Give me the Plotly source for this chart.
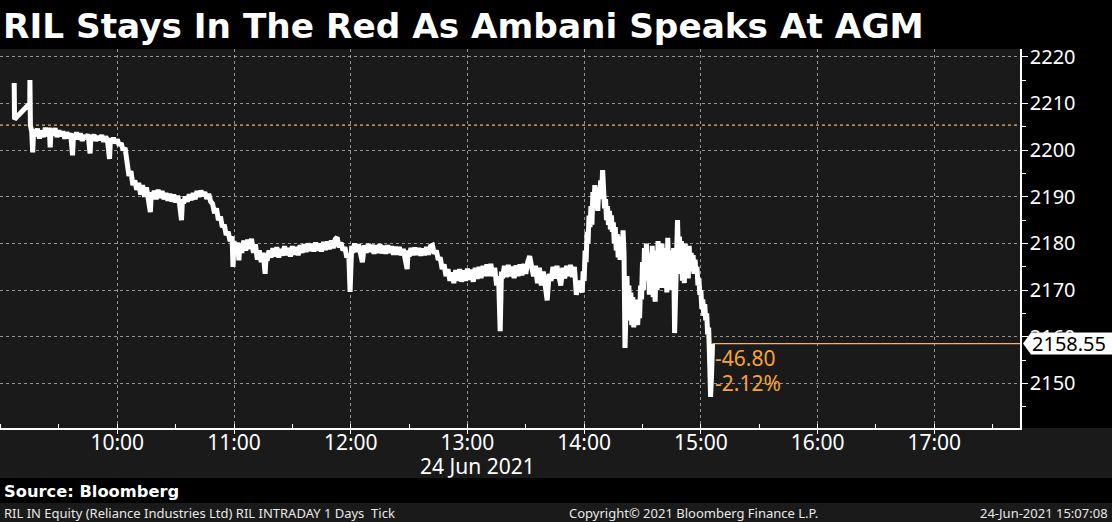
import plotly.graph_objects as go

DATE = "2021-06-24"
TITLE = "RIL Stays In The Red As Ambani Speaks At AGM"

# ---- data ----
preopen = [("09:07:00", 2214.4), ("09:07:10", 2206.6), ("09:15:00", 2210.0),
           ("09:15:05", 2215.0), ("09:15:20", 2205.3)]

morning = [
    ("09:16:00", 2204.0), ("09:16:30", 2199.5), ("09:17:00", 2204.5), ("09:18:00", 2203.0),
    ("09:19:00", 2204.6), ("09:20:00", 2202.5), ("09:21:00", 2204.2), ("09:22:00", 2202.8),
    ("09:23:00", 2204.8), ("09:24:00", 2203.0), ("09:25:00", 2204.8), ("09:25:30", 2200.6),
    ("09:26:00", 2204.5), ("09:27:00", 2203.2), ("09:28:00", 2204.7), ("09:29:00", 2202.8),
    ("09:30:00", 2204.2), ("09:31:00", 2203.0), ("09:32:00", 2204.0), ("09:33:00", 2202.5),
    ("09:34:00", 2203.8), ("09:35:00", 2202.6), ("09:36:00", 2203.6), ("09:37:00", 2198.9),
    ("09:37:30", 2203.5), ("09:38:00", 2202.5), ("09:39:00", 2203.8), ("09:40:00", 2202.3),
    ("09:41:00", 2203.6), ("09:42:00", 2202.0), ("09:43:00", 2203.2), ("09:44:00", 2202.4),
    ("09:45:00", 2203.4), ("09:46:00", 2199.3), ("09:46:30", 2203.2), ("09:47:00", 2202.2),
    ("09:48:00", 2203.3), ("09:49:00", 2202.0), ("09:50:00", 2203.0), ("09:51:00", 2202.2),
    ("09:52:00", 2203.2), ("09:53:00", 2201.8), ("09:54:00", 2202.9), ("09:55:00", 2202.0),
    ("09:56:00", 2198.1), ("09:56:30", 2202.6), ("09:57:00", 2201.7), ("09:58:00", 2202.6),
    ("09:59:00", 2201.5), ("10:00:00", 2202.3), ("10:01:00", 2201.0), ("10:02:00", 2201.5),
    ("10:03:00", 2200.0), ("10:04:00", 2200.5), ("10:05:00", 2197.0), ("10:06:00", 2194.5),
    ("10:07:00", 2195.5), ("10:08:00", 2192.5), ("10:09:00", 2193.5), ("10:10:00", 2191.5),
    ("10:11:00", 2193.0), ("10:12:00", 2190.5), ("10:13:00", 2192.5), ("10:14:00", 2190.0),
    ("10:15:00", 2192.0), ("10:16:00", 2189.8), ("10:17:00", 2186.7), ("10:17:30", 2191.0),
    ("10:18:00", 2189.5), ("10:19:00", 2191.3), ("10:20:00", 2189.5), ("10:21:00", 2191.5),
    ("10:22:00", 2189.8), ("10:23:00", 2191.2), ("10:24:00", 2189.5), ("10:25:00", 2190.8),
    ("10:26:00", 2189.2), ("10:27:00", 2190.6), ("10:28:00", 2189.0), ("10:29:00", 2190.5),
    ("10:30:00", 2188.8), ("10:31:00", 2190.2), ("10:32:00", 2188.5), ("10:33:00", 2185.0),
    ("10:33:30", 2189.5), ("10:34:00", 2188.6), ("10:35:00", 2190.0), ("10:36:00", 2189.0),
    ("10:37:00", 2190.5), ("10:38:00", 2189.3), ("10:39:00", 2190.8), ("10:40:00", 2189.5),
    ("10:41:00", 2191.2), ("10:42:00", 2190.0), ("10:43:00", 2191.3), ("10:44:00", 2190.2),
    ("10:45:00", 2191.0), ("10:46:00", 2189.6), ("10:47:00", 2190.6), ("10:48:00", 2189.0),
    ("10:49:00", 2188.5), ("10:50:00", 2186.5), ("10:51:00", 2187.5), ("10:52:00", 2185.0),
    ("10:53:00", 2185.8), ("10:54:00", 2183.5), ("10:55:00", 2184.0), ("10:56:00", 2181.8),
    ("10:57:00", 2182.5), ("10:58:00", 2180.5), ("10:59:00", 2181.5), ("10:59:30", 2175.0),
    ("11:00:00", 2180.5), ("11:01:00", 2178.5), ("11:02:00", 2180.2), ("11:02:30", 2176.4),
    ("11:03:00", 2179.8), ("11:04:00", 2178.0), ("11:05:00", 2180.6), ("11:06:00", 2178.5),
    ("11:07:00", 2180.8), ("11:08:00", 2178.8), ("11:09:00", 2181.0), ("11:10:00", 2178.0),
    ("11:11:00", 2179.8), ("11:12:00", 2176.5), ("11:13:00", 2178.5), ("11:14:00", 2176.0),
    ("11:15:00", 2178.0), ("11:16:00", 2173.5), ("11:16:30", 2177.5), ("11:17:00", 2176.3),
    ("11:18:00", 2178.5), ("11:19:00", 2177.0), ("11:20:00", 2179.0), ("11:21:00", 2177.2),
    ("11:22:00", 2179.2), ("11:23:00", 2177.0), ("11:24:00", 2178.8), ("11:25:00", 2177.4),
    ("11:26:00", 2179.4), ("11:27:00", 2177.5), ("11:28:00", 2179.0), ("11:29:00", 2177.2),
    ("11:30:00", 2179.4), ("11:31:00", 2177.6), ("11:32:00", 2179.2), ("11:33:00", 2177.5),
    ("11:34:00", 2179.6), ("11:35:00", 2178.0), ("11:36:00", 2179.8), ("11:37:00", 2178.2),
    ("11:38:00", 2180.0), ("11:39:00", 2178.4), ("11:40:00", 2179.9), ("11:41:00", 2178.3),
    ("11:42:00", 2180.2), ("11:43:00", 2178.5), ("11:44:00", 2180.0), ("11:45:00", 2178.3),
    ("11:46:00", 2180.3), ("11:47:00", 2178.6), ("11:48:00", 2180.4), ("11:49:00", 2178.8),
    ("11:50:00", 2180.6), ("11:51:00", 2179.0), ("11:52:00", 2180.9), ("11:53:00", 2181.3),
    ("11:54:00", 2179.2), ("11:55:00", 2180.2), ("11:56:00", 2178.5), ("11:57:00", 2179.2),
    ("11:58:00", 2177.0), ("11:59:00", 2177.8), ("11:59:40", 2169.6),
]

midday = [
    ("12:00:30", 2179.5), ("12:01:00", 2178.0), ("12:02:00", 2180.0), ("12:03:00", 2178.2),
    ("12:04:00", 2179.8), ("12:05:00", 2177.5), ("12:06:00", 2176.0), ("12:07:00", 2179.6),
    ("12:08:00", 2178.0), ("12:09:00", 2179.9), ("12:10:00", 2178.2), ("12:11:00", 2179.7),
    ("12:12:00", 2177.8), ("12:13:00", 2179.6), ("12:14:00", 2178.0), ("12:15:00", 2179.8),
    ("12:16:00", 2177.9), ("12:17:00", 2179.5), ("12:18:00", 2177.8), ("12:19:00", 2179.6),
    ("12:20:00", 2178.0), ("12:21:00", 2179.4), ("12:22:00", 2177.6), ("12:23:00", 2179.3),
    ("12:24:00", 2177.6), ("12:25:00", 2179.2), ("12:26:00", 2177.5), ("12:27:00", 2178.8),
    ("12:28:00", 2177.0), ("12:29:00", 2174.5), ("12:29:30", 2178.5), ("12:30:00", 2177.2),
    ("12:31:00", 2179.0), ("12:32:00", 2177.5), ("12:33:00", 2179.1), ("12:34:00", 2177.6),
    ("12:35:00", 2179.0), ("12:36:00", 2177.4), ("12:37:00", 2178.9), ("12:38:00", 2177.5),
    ("12:39:00", 2179.2), ("12:40:00", 2177.6), ("12:41:00", 2179.4), ("12:42:00", 2179.6),
    ("12:43:00", 2177.8), ("12:44:00", 2178.5), ("12:45:00", 2176.5), ("12:46:00", 2177.0),
    ("12:47:00", 2174.5), ("12:48:00", 2175.5), ("12:49:00", 2173.0), ("12:50:00", 2174.5),
    ("12:51:00", 2172.0), ("12:52:00", 2173.8), ("12:53:00", 2171.5), ("12:54:00", 2174.3),
    ("12:55:00", 2172.0), ("12:56:00", 2174.5), ("12:57:00", 2171.8), ("12:58:00", 2174.2),
    ("12:59:00", 2172.0), ("13:00:00", 2174.6), ("13:01:00", 2172.2), ("13:02:00", 2174.4),
    ("13:03:00", 2171.8), ("13:04:00", 2174.8), ("13:05:00", 2172.4), ("13:06:00", 2175.0),
    ("13:07:00", 2172.6), ("13:08:00", 2175.2), ("13:09:00", 2173.0), ("13:10:00", 2175.5),
    ("13:11:00", 2173.0), ("13:12:00", 2175.6), ("13:13:00", 2173.0), ("13:14:00", 2174.8),
    ("13:15:00", 2171.0), ("13:16:00", 2173.0), ("13:16:50", 2161.2), ("13:17:30", 2174.0),
    ("13:18:00", 2172.5), ("13:19:00", 2175.2), ("13:20:00", 2172.8), ("13:21:00", 2175.4),
    ("13:22:00", 2173.0), ("13:23:00", 2175.0), ("13:24:00", 2172.6), ("13:25:00", 2175.3),
    ("13:26:00", 2173.0), ("13:27:00", 2175.5), ("13:28:00", 2173.2), ("13:29:00", 2175.6),
    ("13:30:00", 2173.5), ("13:31:00", 2176.0), ("13:32:00", 2177.3), ("13:33:00", 2175.0),
    ("13:34:00", 2173.0), ("13:35:00", 2175.2), ("13:36:00", 2171.5), ("13:37:00", 2174.8),
    ("13:38:00", 2171.0), ("13:39:00", 2174.0), ("13:40:00", 2170.5), ("13:41:00", 2167.8),
    ("13:42:00", 2173.5), ("13:43:00", 2172.0), ("13:44:00", 2175.0), ("13:45:00", 2172.5),
    ("13:46:00", 2175.2), ("13:47:00", 2172.8), ("13:48:00", 2171.0), ("13:49:00", 2174.8),
    ("13:50:00", 2172.5), ("13:51:00", 2175.2), ("13:52:00", 2173.0), ("13:53:00", 2175.4),
    ("13:54:00", 2172.8), ("13:55:00", 2175.0), ("13:56:00", 2169.0), ("13:57:00", 2172.0),
]

afternoon = [
    ("13:58:00", 2171.0), ("13:59:00", 2169.5), ("13:59:30", 2174.0), ("14:00:00", 2172.0),
    ("14:00:30", 2178.5), ("14:01:00", 2176.0), ("14:01:30", 2182.5), ("14:02:00", 2180.0),
    ("14:02:30", 2186.0), ("14:03:00", 2183.5), ("14:03:30", 2188.0), ("14:04:00", 2184.0),
    ("14:04:30", 2191.0), ("14:05:00", 2187.5), ("14:05:30", 2192.5), ("14:06:00", 2188.0),
    ("14:06:30", 2190.5), ("14:07:00", 2187.0), ("14:07:30", 2192.0), ("14:08:00", 2189.5),
    ("14:08:30", 2193.5), ("14:09:00", 2191.0), ("14:09:30", 2195.7), ("14:10:00", 2190.0),
    ("14:10:30", 2187.5), ("14:11:00", 2189.5), ("14:11:30", 2185.0), ("14:12:00", 2188.0),
    ("14:12:30", 2184.0), ("14:13:00", 2187.0), ("14:13:30", 2183.0), ("14:14:00", 2186.0),
    ("14:14:30", 2182.5), ("14:15:00", 2184.5), ("14:15:30", 2180.0), ("14:16:00", 2183.5),
    ("14:16:30", 2178.5), ("14:17:00", 2182.0), ("14:17:30", 2177.0), ("14:18:00", 2181.5),
    ("14:18:30", 2176.5), ("14:19:00", 2181.0), ("14:19:30", 2177.5), ("14:20:00", 2182.8),
    ("14:20:30", 2178.0), ("14:21:00", 2157.6), ("14:21:30", 2170.0), ("14:22:00", 2173.0),
    ("14:22:30", 2165.0), ("14:23:00", 2171.0), ("14:23:30", 2163.5), ("14:24:00", 2169.5),
    ("14:24:30", 2162.5), ("14:25:00", 2168.5), ("14:25:30", 2162.0), ("14:26:00", 2167.5),
    ("14:26:30", 2163.0), ("14:27:00", 2168.0), ("14:27:30", 2162.5), ("14:28:00", 2166.5),
    ("14:28:30", 2164.0), ("14:29:00", 2171.0), ("14:29:30", 2168.0), ("14:30:00", 2176.0),
    ("14:30:30", 2170.0), ("14:31:00", 2179.0), ("14:31:30", 2172.0), ("14:32:00", 2180.0),
    ("14:32:30", 2173.0), ("14:33:00", 2178.0), ("14:33:30", 2169.0), ("14:34:00", 2177.5),
    ("14:34:30", 2170.0), ("14:35:00", 2179.5), ("14:35:30", 2168.5), ("14:36:00", 2176.0),
    ("14:36:30", 2167.5), ("14:37:00", 2178.5), ("14:37:30", 2170.0), ("14:38:00", 2180.5),
    ("14:38:30", 2171.5), ("14:39:00", 2178.0), ("14:39:30", 2170.5), ("14:40:00", 2180.0),
    ("14:40:30", 2172.0), ("14:41:00", 2179.0), ("14:41:30", 2170.5), ("14:42:00", 2176.5),
    ("14:42:30", 2169.5), ("14:43:00", 2181.2), ("14:43:30", 2172.0), ("14:44:00", 2177.5),
    ("14:44:30", 2170.0), ("14:45:00", 2178.5), ("14:45:30", 2172.5), ("14:46:00", 2179.0),
    ("14:46:30", 2160.8), ("14:47:00", 2174.0), ("14:47:30", 2178.0), ("14:48:00", 2185.0),
    ("14:48:30", 2177.0), ("14:49:00", 2181.5), ("14:49:30", 2173.5), ("14:50:00", 2180.5),
    ("14:50:30", 2172.0), ("14:51:00", 2179.0), ("14:51:30", 2171.5), ("14:52:00", 2180.0),
    ("14:52:30", 2173.0), ("14:53:00", 2178.5), ("14:53:30", 2172.5), ("14:54:00", 2179.5),
    ("14:54:30", 2174.0), ("14:55:00", 2178.0), ("14:55:30", 2174.5), ("14:56:00", 2177.5),
    ("14:56:30", 2173.5), ("14:57:00", 2176.5), ("14:57:30", 2174.0), ("14:58:00", 2175.0),
    ("14:58:30", 2171.0), ("14:59:00", 2172.5), ("14:59:30", 2169.0), ("15:00:00", 2170.0),
    ("15:00:30", 2166.0), ("15:01:00", 2168.0), ("15:01:30", 2164.5), ("15:02:00", 2167.0),
    ("15:02:30", 2163.5), ("15:03:00", 2165.0), ("15:03:30", 2160.5), ("15:04:00", 2162.0),
    ("15:04:30", 2155.0), ("15:05:00", 2147.1), ("15:05:30", 2152.0), ("15:06:00", 2158.55),
]

last_price = 2158.55
net_change = -46.80
pct_change = -2.12
prev_close = last_price - net_change

y_ticks = [2150, 2160, 2170, 2180, 2190, 2200, 2210, 2220]
x_tick_labels = ["10:00", "11:00", "12:00", "13:00", "14:00", "15:00", "16:00", "17:00"]
x_range = ["08:59:42", "17:44:04"]
y_range = [2140.46, 2221.67]

date_label = "24 Jun 2021"
source_text = "Source: Bloomberg"
footer_left = "RIL IN Equity (Reliance Industries Ltd) RIL INTRADAY 1 Days  Tick"
footer_mid = "Copyright\u00a9 2021 Bloomberg Finance L.P."
footer_right = "24-Jun-2021 15:07:08"

# ---- build ----
ticks = preopen + morning + midday + afternoon
times = [f"{DATE} {t}" for t, _ in ticks]
prices = [p for _, p in ticks]
last_time = times[-1]

ORANGE = "#f5a33c"
GRID = "rgba(190,190,190,0.75)"
FAM = "Noto Sans, DejaVu Sans, sans-serif"
XFONT = dict(family=FAM, size=21, color="white")
YFONT = dict(family=FAM, size=20, color="white")
FOOT = dict(family=FAM, size=13, color="#e8e8e8")

fig = go.Figure()
fig.add_trace(go.Scatter(x=times, y=prices, mode="lines",
                         line=dict(color="white", width=5), hoverinfo="skip",
                         showlegend=False))
fig.add_trace(go.Scatter(x=[last_time, f"{DATE} {x_range[1]}"], y=[last_price, last_price],
                         mode="lines", line=dict(color="#f3b070", width=1.3),
                         hoverinfo="skip", showlegend=False))

W, H = 1112, 522
ML, MR, MT, MB = 0, 92, 49, 94
PW = W - ML - MR
PH = H - MT - MB


def px_to_py(ypix):
    return (H - MB - ypix) / PH


shapes = [
    dict(type="rect", xref="paper", yref="paper", x0=0, x1=W / PW, y0=px_to_py(478), y1=0,
         fillcolor="#1a1a1a", line=dict(width=0), layer="below"),
    dict(type="rect", xref="paper", yref="paper", x0=0, x1=W / PW, y0=px_to_py(H), y1=px_to_py(503),
         fillcolor="#1a1a1a", line=dict(width=0), layer="below"),
    dict(type="line", xref="paper", yref="y", x0=0, x1=1, y0=prev_close, y1=prev_close,
         line=dict(color="#f0b07a", width=1.3, dash="dot"), layer="between"),
]

dy = 11 / (PH / (y_range[1] - y_range[0]))
xa = 1 + 3 / PW
xb = 1 + 11 / PW
xc = W / PW
path = (f"M {xa},{last_price} L {xb},{last_price + dy} L {xc},{last_price + dy} "
        f"L {xc},{last_price - dy} L {xb},{last_price - dy} Z")
shapes.append(dict(type="path", xref="paper", yref="y", path=path,
                   fillcolor="white", line=dict(width=0), layer="above"))

annotations = [
    dict(text=f"<b>{TITLE}</b>", xref="paper", yref="paper", x=1 / PW, y=px_to_py(26),
         xanchor="left", yanchor="middle", showarrow=False,
         font=dict(family="DejaVu Sans", size=34.3, color="white")),
    dict(text=date_label, xref="paper", yref="paper", x=477 / PW, y=px_to_py(466),
         xanchor="center", yanchor="middle", showarrow=False, font=XFONT),
    dict(text=f"<b>{source_text}</b>", xref="paper", yref="paper", x=2 / PW, y=px_to_py(491),
         xanchor="left", yanchor="middle", showarrow=False,
         font=dict(family="DejaVu Sans", size=16.3, color="white")),
    dict(text=footer_left, xref="paper", yref="paper", x=2 / PW, y=px_to_py(513),
         xanchor="left", yanchor="middle", showarrow=False, font=FOOT),
    dict(text=footer_mid, xref="paper", yref="paper", x=567 / PW, y=px_to_py(513),
         xanchor="left", yanchor="middle", showarrow=False, font=FOOT),
    dict(text=footer_right, xref="paper", yref="paper", x=1110 / PW, y=px_to_py(513),
         xanchor="right", yanchor="middle", showarrow=False, font=FOOT),
    dict(text=f"{last_price:.2f}", xref="paper", yref="y", x=1 + 10 / PW, y=last_price,
         xanchor="left", yanchor="middle", showarrow=False,
         font=dict(family=FAM, size=20, color="black")),
    dict(text=f"{net_change:.2f}", xref="x", yref="y", x=last_time, y=last_price, yshift=-14,
         xanchor="left", yanchor="middle", showarrow=False, xshift=0,
         font=dict(family=FAM, size=21, color=ORANGE)),
    dict(text=f"{pct_change:.2f}%", xref="x", yref="y", x=last_time, y=last_price, yshift=-39,
         xanchor="left", yanchor="middle", showarrow=False, xshift=0,
         font=dict(family=FAM, size=21, color=ORANGE)),
]

fig.update_layout(
    width=W, height=H,
    margin=dict(l=ML, r=MR, t=MT, b=MB, pad=0),
    paper_bgcolor="black", plot_bgcolor="#1a1a1a",
    shapes=shapes, annotations=annotations,
    showlegend=False,
    xaxis=dict(
        type="date", range=[f"{DATE} {x_range[0]}", f"{DATE} {x_range[1]}"],
        tickvals=[f"{DATE} {t}" for t in x_tick_labels], ticktext=x_tick_labels,
        showgrid=True, gridcolor=GRID, griddash="dot", gridwidth=1,
        showline=True, linecolor="white", linewidth=1.5,
        ticks="outside", ticklen=4, tickcolor="white", tickfont=XFONT,
        ticklabelstandoff=-9,
        minor=dict(tick0=f"{DATE} 09:30", dtick=30 * 60 * 1000, ticks="inside",
                   ticklen=4, tickcolor="white", showgrid=False),
        zeroline=False, fixedrange=True,
    ),
    yaxis=dict(
        side="right", range=y_range, tickvals=y_ticks,
        showgrid=True, gridcolor=GRID, griddash="dot", gridwidth=1,
        showline=True, linecolor="white", linewidth=1.5,
        ticks="outside", ticklen=6, tickcolor="white", tickfont=YFONT,
        ticklabelstandoff=-2,
        minor=dict(dtick=5, ticks="outside", ticklen=4, tickcolor="white", showgrid=False),
        zeroline=False, fixedrange=True,
    ),
)

fig.write_html("out.html", config={"displayModeBar": False},
               post_script="document.body.style.margin='0';")
